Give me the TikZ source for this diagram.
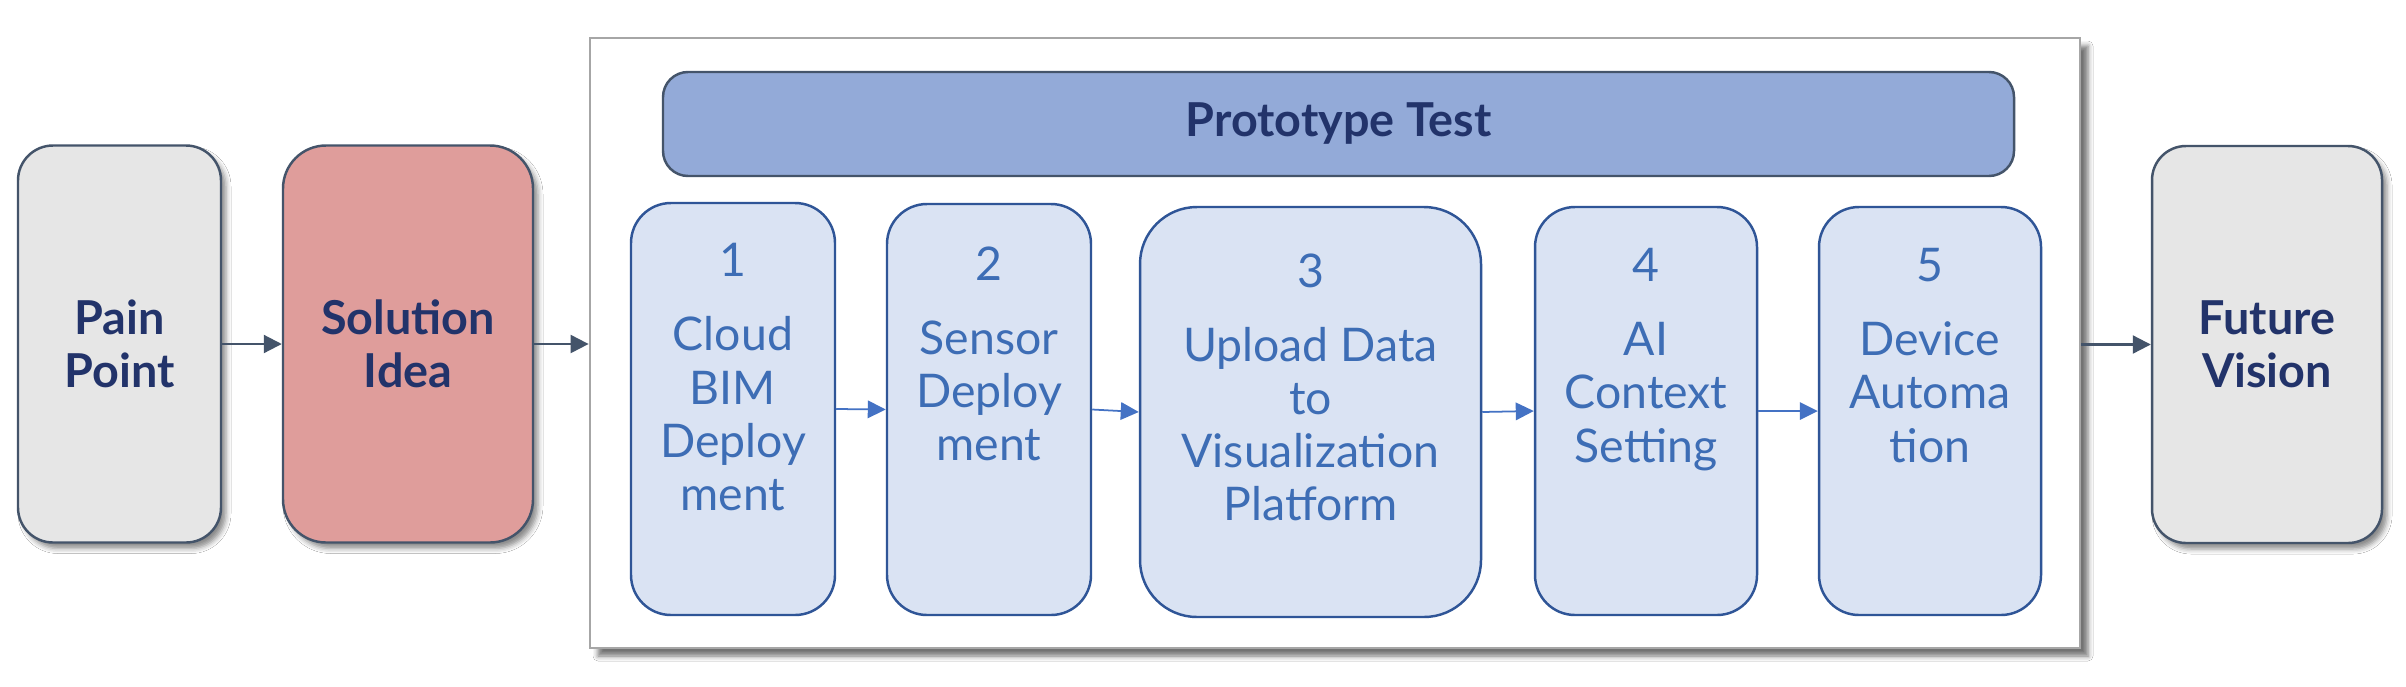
\documentclass[tikz,border=0pt]{standalone}
\usepackage{fontspec}
\setmainfont{Lato}
\usetikzlibrary{arrows.meta,calc,shadows.blur}
\definecolor{navy}{HTML}{22336A}
\definecolor{slate}{HTML}{44546A}
\definecolor{bluetxt}{HTML}{3D6DB5}
\definecolor{boxfill}{HTML}{DAE3F3}
\definecolor{boxline}{HTML}{2F5597}
\definecolor{barfill}{HTML}{93AAD8}
\definecolor{grayfill}{HTML}{E6E6E6}
\definecolor{pinkfill}{HTML}{DF9D9B}
\definecolor{arrowblue}{HTML}{4472C4}
\definecolor{contline}{HTML}{A6A6A6}
\begin{document}
\begin{tikzpicture}[x=0.1mm,y=-0.1mm,
  shadowed/.style={blur shadow={shadow xshift=0.5mm, shadow yshift=-0.6mm, shadow blur radius=0.5mm, shadow opacity=45}},
  sidebox/.style={draw=slate, line width=0.7pt, inner sep=0pt, text=navy,
    font=\bfseries\fontsize{13.3}{15.1}\selectfont, align=center, shadowed},
  stepbox/.style={draw=boxline, fill=boxfill, line width=0.7pt, rounded corners=4mm, inner sep=0pt},
  steptext/.style={anchor=north, inner sep=0pt, text=bluetxt, align=center,
    font=\fontsize{13.2}{15.1}\selectfont},
  outarrow/.style={draw=slate, line width=0.6pt, -{Triangle[length=1.8mm, width=1.8mm]}},
  inarrow/.style={draw=arrowblue, line width=0.5pt, -{Triangle[length=1.8mm, width=1.75mm]}},
]
\fill[white] (0,0) rectangle (2406,686);
\useasboundingbox (0,0) rectangle (2406,686);

% side boxes
\node[sidebox, fill=grayfill, rounded corners=3.5mm, minimum width=20.3mm, minimum height=39.7mm] (pain) at (119.5,344) {Pain\\Point};
\node[sidebox, fill=pinkfill, rounded corners=4.3mm, minimum width=25mm, minimum height=39.7mm] (sol) at (408,344) {Solution\\Idea};
\node[sidebox, fill=grayfill, rounded corners=3.4mm, minimum width=23mm, minimum height=39.7mm] (fut) at (2267,344.5) {Future\\Vision};

% container
\node[draw=contline, fill=white, line width=0.8pt, inner sep=0pt, minimum width=149mm, minimum height=61mm,
  blur shadow={shadow xshift=0.8mm, shadow yshift=-0.8mm, shadow blur radius=0.5mm, shadow opacity=55}] (cont) at (1335,343) {};

% prototype bar
\node[draw=slate, fill=barfill, line width=0.7pt, rounded corners=2.5mm, inner sep=0pt,
  minimum width=135.1mm, minimum height=10.4mm, text=navy,
  font=\bfseries\fontsize{13.3}{15.1}\selectfont] (bar) at (1338.5,124) {Prototype Test};

% step boxes
\node[stepbox, minimum width=20.4mm, minimum height=41.2mm] (b1) at (733,409) {};
\node[stepbox, minimum width=20.4mm, minimum height=41.1mm] (b2) at (989,409.5) {};
\node[stepbox, rounded corners=5.7mm, minimum width=34.1mm, minimum height=41mm] (b3) at (1310.5,412) {};
\node[stepbox, minimum width=22.2mm, minimum height=40.8mm] (b4) at (1646,411) {};
\node[stepbox, minimum width=22.2mm, minimum height=40.8mm] (b5) at (1930,411) {};

\node[steptext] (t1) at ($(b1.north)+(0,41)$) {1\\[6pt]Cloud\\BIM\\Deploy\\ment};
\node[steptext] (t2) at ($(b2.north)+(0,43)$) {2\\[6pt]Sensor\\Deploy\\ment};
\node[steptext] (t3) at ($(b3.north)+(0,47)$) {3\\[6pt]Upload Data\\to\\Visualization\\Platform};
\node[steptext] (t4) at ($(b4.north)+(0,42)$) {4\\[6pt]AI\\Context\\Setting};
\node[steptext] (t5) at ($(b5.north)+(0,42)$) {5\\[6pt]Device\\Automa\\tion};

% connectors
\draw[outarrow] (pain.east) -- (sol.west);
\draw[outarrow] (sol.east) -- (sol.east -| cont.west);
\draw[outarrow] (fut.west -| cont.east) -- (fut.west);
\draw[inarrow] (b1.east) -- (b2.west);
\draw[inarrow] (b2.east) -- (b3.west);
\draw[inarrow] (b3.east) -- (b4.west);
\draw[inarrow] (b4.east) -- (b5.west);
\end{tikzpicture}
\end{document}
